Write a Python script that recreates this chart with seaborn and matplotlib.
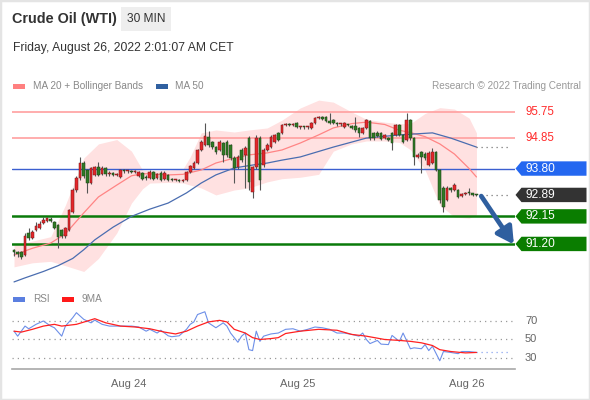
import numpy as np
import matplotlib
matplotlib.use("Agg")
import matplotlib.pyplot as plt
from matplotlib.patches import Polygon, Rectangle
import seaborn as sns

# ---------------- data ----------------
opens = [90.99, 90.92, 90.92, 90.82, 91.58, 91.40, 91.68, 91.75, 91.92, 91.99,
         92.06, 91.96, 91.85, 91.68, 91.47, 91.68, 92.30, 93.06, 93.47, 93.99,
         93.75, 93.30, 93.58, 93.85, 93.61, 93.82, 93.61, 93.65, 93.58, 93.51,
         93.75, 93.70, 93.72, 93.68, 93.54, 93.65, 93.50, 93.47, 93.68, 93.47,
         93.65, 93.44, 93.58, 93.44, 93.39, 93.41, 93.38, 93.41, 93.68, 93.82,
         93.99, 94.44, 94.61, 94.89, 94.72, 94.54, 94.44, 94.68, 94.72, 94.61,
         94.16, 93.85, 94.44, 94.27, 94.85, 92.99, 93.85, 94.85, 93.92, 94.44,
         94.54, 94.72, 95.03, 95.03, 95.30, 95.34, 95.30, 95.37, 95.23, 95.25,
         95.22, 95.20, 95.37, 95.54, 95.58, 95.58, 95.44, 95.47, 95.37, 95.32,
         95.23, 95.32, 95.27, 95.27, 95.20, 95.03, 95.20, 95.44, 95.03, 95.03,
         95.03, 94.85, 94.85, 95.03, 94.96, 95.30, 94.96, 94.80, 95.47, 94.85,
         94.20, 94.37, 94.30, 93.92, 94.00, 94.37, 93.75, 93.13, 92.72, 93.13,
         93.06, 93.06, 92.85, 92.92, 92.96, 92.94, 92.90]
highs = [91.02, 90.95, 90.96, 91.58, 91.75, 91.68, 91.95, 92.00, 92.12, 92.14,
         92.14, 92.00, 91.90, 91.72, 91.80, 92.42, 93.12, 93.55, 94.20, 94.05,
         93.80, 93.86, 93.90, 94.03, 93.88, 93.85, 93.70, 93.68, 93.65, 93.80,
         93.78, 93.76, 93.75, 93.74, 93.72, 93.68, 93.58, 93.74, 93.72, 93.66,
         93.70, 93.72, 93.62, 93.47, 93.44, 93.44, 93.45, 93.72, 93.92, 94.05,
         94.48, 94.78, 95.37, 95.10, 94.76, 94.58, 94.78, 94.72, 94.78, 94.65,
         94.22, 94.28, 94.50, 94.58, 94.92, 93.90, 94.95, 94.92, 94.50, 94.68,
         94.95, 95.00, 95.06, 95.34, 95.38, 95.37, 95.38, 95.40, 95.28, 95.28,
         95.28, 95.40, 95.58, 95.62, 95.62, 95.62, 95.72, 95.50, 95.40, 95.38,
         95.40, 95.34, 95.30, 95.58, 95.24, 95.24, 95.50, 95.48, 95.06, 95.10,
         95.06, 95.00, 94.88, 95.06, 95.34, 95.33, 95.00, 95.72, 95.50, 94.90,
         94.32, 94.42, 94.36, 94.40, 94.50, 94.42, 93.80, 93.20, 93.20, 93.16,
         93.30, 93.10, 92.96, 93.00, 93.13, 92.97, 92.93]
lows = [90.80, 90.75, 90.68, 90.78, 91.35, 91.36, 91.65, 91.70, 91.88, 91.95,
        91.95, 91.70, 91.06, 91.40, 91.42, 91.64, 92.26, 93.00, 93.42, 93.48,
        92.96, 93.26, 93.54, 93.54, 93.58, 93.56, 93.56, 93.54, 93.54, 93.48,
        93.66, 93.66, 93.65, 93.64, 93.50, 93.40, 93.42, 93.44, 93.40, 93.44,
        93.38, 93.40, 93.38, 93.36, 93.36, 93.35, 93.35, 93.38, 93.64, 93.78,
        93.95, 94.40, 94.58, 94.55, 94.48, 94.30, 94.40, 94.03, 94.20, 94.10,
        93.30, 93.78, 94.03, 93.13, 93.06, 92.78, 93.80, 93.06, 93.85, 94.40,
        94.50, 94.68, 94.74, 95.00, 95.27, 95.27, 95.28, 95.20, 95.18, 95.18,
        95.18, 95.16, 95.34, 95.50, 95.48, 95.40, 95.34, 95.33, 95.28, 95.28,
        95.20, 95.26, 95.16, 95.06, 94.89, 95.00, 95.16, 94.80, 94.80, 94.88,
        94.78, 94.82, 94.75, 94.44, 94.92, 94.92, 94.68, 94.75, 94.80, 93.92,
        94.15, 93.65, 94.10, 93.88, 93.95, 93.70, 92.60, 92.30, 92.68, 93.00,
        93.02, 92.78, 92.82, 92.90, 92.90, 92.86, 92.85]
closes = [90.92, 90.85, 90.75, 91.47, 91.40, 91.61, 91.82, 91.89, 92.03, 92.09,
          91.99, 91.75, 91.44, 91.47, 91.75, 92.37, 93.06, 93.47, 93.99, 93.54,
          93.30, 93.82, 93.85, 93.58, 93.82, 93.61, 93.65, 93.58, 93.61, 93.75,
          93.70, 93.72, 93.68, 93.70, 93.68, 93.44, 93.47, 93.68, 93.44, 93.61,
          93.41, 93.65, 93.41, 93.39, 93.41, 93.38, 93.41, 93.68, 93.89, 93.99,
          94.44, 94.72, 94.92, 94.61, 94.54, 94.37, 94.72, 94.27, 94.27, 94.16,
          93.82, 94.20, 94.09, 94.51, 93.34, 93.85, 94.85, 93.41, 94.44, 94.61,
          94.89, 94.96, 94.78, 95.30, 95.34, 95.30, 95.34, 95.23, 95.25, 95.22,
          95.24, 95.37, 95.54, 95.58, 95.52, 95.44, 95.37, 95.37, 95.32, 95.34,
          95.37, 95.30, 95.20, 95.13, 95.03, 95.20, 95.47, 94.85, 94.85, 94.92,
          94.82, 94.96, 94.78, 94.68, 95.30, 94.96, 94.72, 95.47, 94.85, 94.20,
          94.27, 94.20, 94.16, 94.34, 94.37, 93.75, 92.72, 92.47, 93.13, 93.06,
          93.23, 92.82, 92.92, 92.96, 92.94, 92.90, 92.89]

# Bollinger (MA 20)
band_idx = [0, 5, 10, 14, 19, 23, 28, 32, 35, 37, 42, 46, 48, 51, 55, 60, 64,
            69, 73, 78, 83, 87, 92, 96, 101, 105, 108, 112, 116, 120, 124, 126]
bb_upper = [91.16, 91.30, 91.45, 92.54, 94.16, 94.65, 94.80, 94.40, 93.75, 93.72,
            93.75, 93.78, 94.20, 95.03, 95.13, 95.06, 95.13, 95.20, 95.47, 95.89,
            96.16, 96.09, 95.75, 95.50, 95.40, 95.35, 95.35, 95.70, 95.90, 95.85,
            95.54, 95.03]
bb_lower = [90.41, 90.55, 90.60, 90.45, 90.25, 90.70, 91.58, 92.61, 93.10, 93.30,
            93.32, 93.30, 93.23, 93.13, 92.89, 93.06, 93.13, 93.34, 93.45, 93.50,
            93.60, 94.40, 94.65, 94.75, 94.75, 94.70, 94.45, 93.75, 92.54, 92.13,
            92.09, 92.20]
ma20 = [90.82, 91.05, 91.23, 91.55, 92.27, 92.82, 93.23, 93.55, 93.62, 93.62,
        93.58, 93.60, 93.66, 93.75, 93.99, 94.16, 94.27, 94.34, 94.44, 94.68,
        94.96, 95.20, 95.35, 95.40, 95.32, 95.12, 95.04, 94.90, 94.65, 94.30,
        93.80, 93.51]

ma50_idx = [0, 3, 8, 12, 16, 19, 22, 27, 32, 37, 42, 47, 51, 55, 60, 65, 69,
            73, 78, 87, 96, 105, 114, 119, 126]
ma50 = [89.89, 90.03, 90.25, 90.45, 90.70, 91.00, 91.34, 91.78, 92.15, 92.40,
        92.61, 92.96, 93.30, 93.58, 93.82, 93.92, 93.99, 94.09, 94.20, 94.54,
        94.85, 94.96, 95.03, 94.85, 94.54]

rsi_idx = [0, 1, 3, 4, 6, 8, 10, 11, 13, 14, 16, 17, 19, 21, 22, 24, 26, 29,
           32, 34, 36, 37, 39, 40, 42, 43, 45, 47, 48, 49, 50, 52, 53, 55, 57,
           58, 59, 61, 62, 63, 64, 65, 66, 67, 68, 70, 72, 74, 76, 78, 80, 82,
           84, 86, 88, 90, 92, 94, 95, 96, 97, 99, 100, 102, 103, 105, 106, 108,
           109, 111, 112, 113, 114, 116, 117, 119, 121, 122, 124, 126]
rsi = [59, 53.6, 64.5, 61.6, 66.4, 70, 64.5, 62.7, 53.6, 64.5, 73.6, 79, 71.8,
       68, 71, 66.4, 64.5, 64.5, 64.5, 63.5, 59, 61, 57, 60, 54, 53, 54, 61,
       66.4, 69, 77, 80, 68, 62.7, 68, 64.5, 57, 47, 53.6, 57, 39, 38, 59, 48,
       53.6, 56, 57, 61, 61.6, 59, 61, 63.5, 62.7, 61, 57, 57, 55.5, 53.6, 57,
       50, 45.6, 49, 45, 44.5, 54.4, 48, 57, 40, 41, 40, 44.5, 38, 42.7, 27,
       37, 36, 34.7, 37, 37, 36]
ma9_idx = [0, 2, 5, 8, 11, 13, 17, 20, 22, 25, 29, 33, 37, 41, 44, 47, 50, 53,
           56, 58, 60, 63, 65, 67, 70, 72, 74, 78, 83, 88, 92, 96, 101, 105,
           108, 111, 114, 116, 119, 123, 126]
rsi_ma9 = [59, 58, 61, 64.5, 66.4, 64.5, 66.4, 70, 72.5, 68, 64.5, 63.5, 61.6,
           58, 56, 59, 64.5, 69, 70.7, 69, 61, 57, 52, 50, 51, 52, 56.5, 59, 61,
           60, 55.5, 53.6, 50, 49, 48, 46.4, 43.5, 39, 37, 35.5, 36]

levels = [95.75, 94.85, 93.80, 92.15, 91.20]
last_price = 92.89
day_ticks = [31.3, 77.3, 123.3]
day_labels = ["Aug 24", "Aug 25", "Aug 26"]
rsi_levels = [70, 50, 30]

# ---------------- style ----------------
sns.set_style("white")
plt.rcParams['font.family'] = ['Liberation Sans', 'DejaVu Sans']

W, H = 590, 400
fig = plt.figure(figsize=(W / 100, H / 100), dpi=100)
fig.patch.set_facecolor("white")


def fx(px):
    return px / W


def fy(py):
    return 1 - py / H


ax = fig.add_axes([fx(12), fy(285), fx(515) - fx(12), fy(95) - fy(285)])
axr = fig.add_axes([fx(12), fy(369), fx(515) - fx(12), fy(305) - fy(369)])

XMIN, XMAX = -0.55, 136.5
ax.set_xlim(XMIN, XMAX)
ax.set_ylim(89.784, 96.336)
axr.set_xlim(XMIN, XMAX)
axr.set_ylim(18.1, 87.3)

# Bollinger band + MA20 + MA50
ax.fill_between(band_idx, bb_lower, bb_upper, color="#ffe1e1", lw=0, zorder=1)
sns.lineplot(x=band_idx, y=ma20, ax=ax, color="#ff8585", lw=0.9, zorder=2)
sns.lineplot(x=ma50_idx, y=ma50, ax=ax, color="#4a6db0", lw=0.9, zorder=2)
ax.plot([ma50_idx[-1], 135.3], [ma50[-1], ma50[-1]], ls=(0, (1, 3)),
        color="#777777", lw=0.9, zorder=2)

# level lines
ax.axhline(levels[0], color="#ff9f9f", lw=1.2, zorder=1.5)
ax.axhline(levels[1], color="#ff9f9f", lw=1.2, zorder=1.5)
ax.axhline(levels[2], color="#3b5fd0", lw=1.0, zorder=1.5)
ax.axhline(levels[3], color="#0a7a0a", lw=1.8, zorder=1.5)
ax.axhline(levels[4], color="#0a7a0a", lw=1.8, zorder=1.5)

# candles
o = np.array(opens); c = np.array(closes); h = np.array(highs); l = np.array(lows)
idx = np.arange(len(c))
up = c >= o
ax.vlines(idx, l, h, color="#555555", lw=0.8, zorder=3)
body = np.maximum(np.abs(c - o), 0.035)
bot = np.minimum(o, c)
ax.bar(idx[up], body[up], bottom=bot[up], width=0.72, color="#e5262a",
       edgecolor="#6e1a1a", linewidth=0.35, zorder=4)
ax.bar(idx[~up], body[~up], bottom=bot[~up], width=0.72, color="#2f7a25",
       edgecolor="#1d3f16", linewidth=0.35, zorder=4)

# last price dotted line and arrow
ax.plot([idx[-1] + 1.2, 135.3], [last_price, last_price], ls=(0, (1, 3)),
        color="#777777", lw=0.9, zorder=2)
ax.annotate("", xy=(136.2, levels[4] - 0.02), xytext=(idx[-1] + 1.3, last_price - 0.04),
            arrowprops=dict(arrowstyle="-|>,head_length=1.0,head_width=0.55",
                            lw=3.4, color="#2f5f9f", shrinkA=0, shrinkB=0),
            zorder=6, annotation_clip=False)

ax.set_xticks([]); ax.set_yticks([])
for s in ax.spines.values():
    s.set_visible(False)
ax.set_xlabel(""); ax.set_ylabel("")


def yfig(val, a=ax):
    return (a.transData + fig.transFigure.inverted()).transform((0, val))[1]


for val in levels[:2]:
    fig.text(fx(525), yfig(val), f"{val:.2f}", color="#ff2b2b", fontsize=8.3,
             va="center", ha="left")


def tag(val, color):
    yc = yfig(val)
    hh = 7.2 / H
    pts = [(fx(515.5), yc), (fx(521.5), yc + hh), (fx(586.5), yc + hh),
           (fx(586.5), yc - hh), (fx(521.5), yc - hh)]
    fig.patches.append(Polygon(pts, closed=True, transform=fig.transFigure,
                               facecolor=color, edgecolor="none"))
    fig.text(fx(525), yc, f"{val:.2f}", color="white", fontsize=8.6,
             va="center", ha="left")


tag(levels[2], "#2467f0")
tag(last_price, "#333333")
tag(levels[3], "#0a7d00")
tag(levels[4], "#0a7d00")

# RSI panel
for v in rsi_levels:
    axr.axhline(v, color="#9a9a9a", lw=0.9, ls=(0, (1, 3.2)))
    fig.text(fx(525), yfig(v, axr), str(v), color="#666666", fontsize=8,
             va="center", ha="left")
sns.lineplot(x=rsi_idx, y=rsi, ax=axr, color="#6d8fe8", lw=0.8, zorder=3)
sns.lineplot(x=ma9_idx, y=rsi_ma9, ax=axr, color="#ff2020", lw=0.9, zorder=4)
axr.plot([rsi_idx[-1], 135.5], [rsi[-1], rsi[-1]], ls=(0, (1, 3)),
         color="#8aa4ee", lw=0.9)
axr.set_xlabel(""); axr.set_ylabel("")
axr.set_yticks([])
for k, s in axr.spines.items():
    s.set_visible(k == "bottom")
axr.spines["bottom"].set_color("#a8a8a8")
axr.spines["bottom"].set_linewidth(1.2)
axr.set_xticks(day_ticks)
axr.set_xticklabels(day_labels, color="#666666", fontsize=8)
axr.tick_params(axis="x", which="major", length=0, pad=7)
axr.set_xticks([XMIN + 0.05, XMAX - 0.05], minor=True)
axr.tick_params(axis="x", which="minor", length=5, width=1.2, color="#a8a8a8",
                direction="out")

# header
fig.text(fx(12), fy(19), "Crude Oil (WTI)", fontsize=10.4, fontweight="bold",
         color="#333333", va="center", ha="left")
fig.patches.append(Rectangle((fx(121), fy(31)), fx(171) - fx(121), fy(7) - fy(31),
                             transform=fig.transFigure, facecolor="#eeeeee",
                             edgecolor="none"))
fig.text(fx(146), fy(19), "30 MIN", fontsize=8.6, color="#333333",
         va="center", ha="center")
fig.text(fx(13), fy(48), "Friday, August 26, 2022 2:01:07 AM CET", fontsize=8.7,
         color="#333333", va="center", ha="left")


# legends
def swatch(x0, yc, color):
    fig.patches.append(Rectangle((fx(x0), fy(yc + 2.5)), 12 / W, 5 / H,
                                 transform=fig.transFigure, facecolor=color,
                                 edgecolor="none"))


swatch(13, 86, "#ff8080")
fig.text(fx(33), fy(86), "MA 20 + Bollinger Bands", fontsize=7.2, color="#888888",
         va="center", ha="left")
swatch(156, 86, "#3060a0")
fig.text(fx(175), fy(86), "MA 50", fontsize=7.2, color="#888888",
         va="center", ha="left")
fig.text(fx(581), fy(86), "Research \u00a9 2022 Trading Central", fontsize=7.2,
         color="#999999", va="center", ha="right")

swatch(13, 299, "#5b7fe0")
fig.text(fx(33), fy(299), "RSI", fontsize=7.2, color="#888888", va="center", ha="left")
swatch(62, 299, "#ff1a1a")
fig.text(fx(82), fy(299), "9MA", fontsize=7.2, color="#888888", va="center", ha="left")

# outer frame
fig.patches.append(Rectangle((0, 0), 1, 1, transform=fig.transFigure,
                             facecolor="none", edgecolor="#e4e4e4", lw=2.5))

fig.savefig("out.png", dpi=100)
